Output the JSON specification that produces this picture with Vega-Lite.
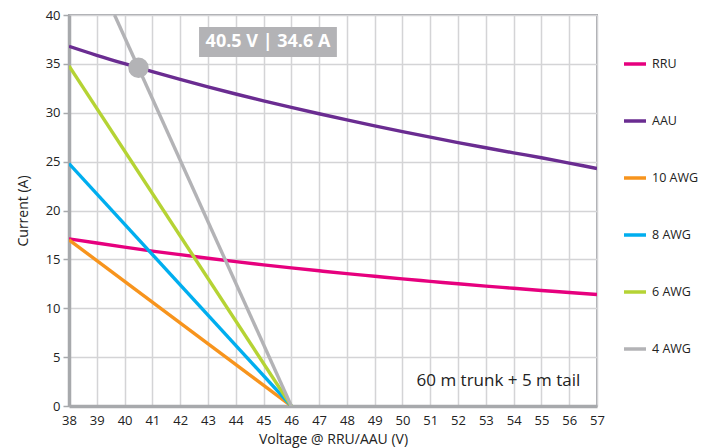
{
  "$schema": "https://vega.github.io/schema/vega-lite/v6.json",
  "autosize": {"type": "none"},
  "width": 528,
  "height": 391,
  "padding": {"left": 69, "top": 15, "right": 117, "bottom": 42},
  "background": "white",
  "config": {
    "font": "Open Sans",
    "view": {"stroke": "#a7a9ac", "strokeWidth": 2},
    "axis": {
      "gridColor": "#d4d4d6",
      "gridWidth": 1.5,
      "labelFont": "Open Sans",
      "labelFontSize": 13,
      "labelColor": "#222222",
      "labelOverlap": false,
      "titleFont": "Open Sans",
      "titleFontSize": 14,
      "titleFontWeight": 500,
      "titleColor": "#222222",
      "domainColor": "#a7a9ac",
      "domainWidth": 3.5,
      "tickColor": "#a7a9ac",
      "tickWidth": 1.5
    }
  },
  "datasets": {
    "lines": [
      {"series": "RRU", "v": 38, "i": 17.1},
      {"series": "RRU", "v": 39, "i": 16.67},
      {"series": "RRU", "v": 40, "i": 16.25},
      {"series": "RRU", "v": 41, "i": 15.85},
      {"series": "RRU", "v": 42, "i": 15.48},
      {"series": "RRU", "v": 43, "i": 15.12},
      {"series": "RRU", "v": 44, "i": 14.77},
      {"series": "RRU", "v": 45, "i": 14.44},
      {"series": "RRU", "v": 46, "i": 14.13},
      {"series": "RRU", "v": 47, "i": 13.83},
      {"series": "RRU", "v": 48, "i": 13.54},
      {"series": "RRU", "v": 49, "i": 13.27},
      {"series": "RRU", "v": 50, "i": 13.0},
      {"series": "RRU", "v": 51, "i": 12.75},
      {"series": "RRU", "v": 52, "i": 12.5},
      {"series": "RRU", "v": 53, "i": 12.26},
      {"series": "RRU", "v": 54, "i": 12.04},
      {"series": "RRU", "v": 55, "i": 11.82},
      {"series": "RRU", "v": 56, "i": 11.61},
      {"series": "RRU", "v": 57, "i": 11.4},
      {"series": "AAU", "v": 38, "i": 36.8},
      {"series": "AAU", "v": 39, "i": 35.88},
      {"series": "AAU", "v": 40, "i": 35.02},
      {"series": "AAU", "v": 41, "i": 34.2},
      {"series": "AAU", "v": 42, "i": 33.41},
      {"series": "AAU", "v": 43, "i": 32.65},
      {"series": "AAU", "v": 44, "i": 31.92},
      {"series": "AAU", "v": 45, "i": 31.22},
      {"series": "AAU", "v": 46, "i": 30.55},
      {"series": "AAU", "v": 47, "i": 29.9},
      {"series": "AAU", "v": 48, "i": 29.27},
      {"series": "AAU", "v": 49, "i": 28.66},
      {"series": "AAU", "v": 50, "i": 28.07},
      {"series": "AAU", "v": 51, "i": 27.5},
      {"series": "AAU", "v": 52, "i": 26.95},
      {"series": "AAU", "v": 53, "i": 26.42},
      {"series": "AAU", "v": 54, "i": 25.9},
      {"series": "AAU", "v": 55, "i": 25.4},
      {"series": "AAU", "v": 56, "i": 24.85},
      {"series": "AAU", "v": 57, "i": 24.3},
      {"series": "10 AWG", "v": 38, "i": 17.0},
      {"series": "10 AWG", "v": 46, "i": 0},
      {"series": "8 AWG", "v": 38, "i": 24.8},
      {"series": "8 AWG", "v": 46, "i": 0},
      {"series": "6 AWG", "v": 38, "i": 34.8},
      {"series": "6 AWG", "v": 46, "i": 0},
      {"series": "4 AWG", "v": 39.64, "i": 40},
      {"series": "4 AWG", "v": 46, "i": 0}
    ],
    "point": [{"v": 40.5, "i": 34.6}],
    "box": [{"v": 42.68, "v2": 47.64, "i": 35.7, "i2": 38.77}],
    "boxtext": [{"v": 45.16, "i": 37.25, "label": "40.5 V | 34.6 A"}],
    "note": [{"v": 56.4, "i": 2.6, "label": "60 m trunk + 5 m tail"}]
  },
  "encoding": {
    "x": {
      "field": "v", "type": "quantitative",
      "scale": {"domain": [38, 57], "nice": false, "zero": false},
      "axis": {"title": "Voltage @ RRU/AAU (V)", "values": [38,39,40,41,42,43,44,45,46,47,48,49,50,51,52,53,54,55,56,57], "ticks": false, "domain": true, "labelPadding": 8, "titlePadding": 5, "labelFlush": false, "labelOverlap": false}
    },
    "y": {
      "field": "i", "type": "quantitative",
      "scale": {"domain": [0, 40], "nice": false},
      "axis": {"title": "Current (A)", "values": [0,5,10,15,20,25,30,35,40], "tickSize": 6, "labelPadding": 3, "titlePadding": 15}
    }
  },
  "layer": [
    {
      "data": {"name": "lines"},
      "mark": {"type": "line", "strokeWidth": 3.4, "clip": true, "interpolate": "monotone"},
      "encoding": {
        "color": {
          "field": "series", "type": "nominal",
          "scale": {
            "domain": ["RRU", "AAU", "10 AWG", "8 AWG", "6 AWG", "4 AWG"],
            "range": ["#e6007e", "#6a2c91", "#f7941d", "#00aeef", "#b5d334", "#b3b3b6"]
          },
          "legend": {
            "title": null,
            "orient": "none",
            "legendX": 553,
            "legendY": 36,
            "symbolType": "stroke",
            "symbolSize": 484,
            "symbolStrokeWidth": 3.5,
            "rowPadding": 37,
            "labelFontSize": 12.5,
            "labelFontWeight": 500,
            "labelColor": "#222222",
            "labelFont": "Open Sans"
          }
        },
        "detail": {"field": "series"}
      }
    },
    {
      "data": {"name": "point"},
      "mark": {"type": "circle", "size": 420, "color": "#b3b3b6", "opacity": 1}
    },
    {
      "data": {"name": "box"},
      "mark": {"type": "rect", "color": "#b3b3b6", "opacity": 1},
      "encoding": {
        "x2": {"field": "v2"},
        "y2": {"field": "i2"}
      }
    },
    {
      "data": {"name": "boxtext"},
      "mark": {"type": "text", "color": "white", "fontSize": 18, "fontWeight": "bold", "font": "Open Sans", "align": "center", "baseline": "middle"},
      "encoding": {
        "text": {"field": "label"}
      }
    },
    {
      "data": {"name": "note"},
      "mark": {"type": "text", "color": "#222222", "fontSize": 17, "font": "Open Sans", "align": "right", "baseline": "middle"},
      "encoding": {
        "text": {"field": "label"}
      }
    }
  ]
}
